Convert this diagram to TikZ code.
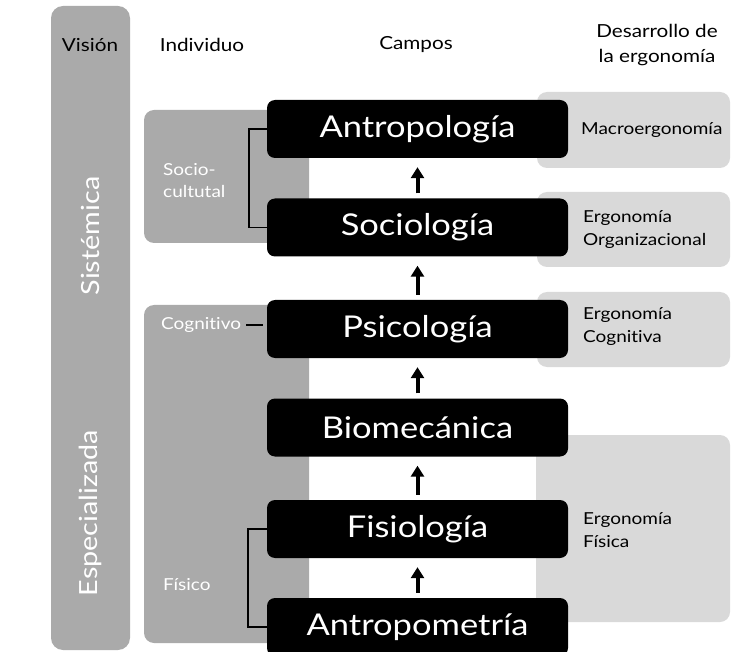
\documentclass[tikz,border=0pt]{standalone}
\usepackage{fontspec}
\setmainfont{Lato}[FakeStretch=1.15, Ligatures={NoCommon}]
\usetikzlibrary{arrows.meta}
\definecolor{midgray}{HTML}{AAAAAA}
\definecolor{palegray}{HTML}{D9D9D9}
\begin{document}
\begin{tikzpicture}[x=1pt,y=-1pt,
  field/.style={fill=black, rounded corners=8pt, text=white, minimum width=301pt, minimum height=58pt, inner sep=0pt, font=\fontsize{30}{34}\selectfont},
  header/.style={font=\fontsize{18}{25}\selectfont, align=center, inner sep=0pt},
  devtext/.style={anchor=west, align=left, inner sep=0pt, font=\fontsize{16.5}{23}\selectfont},
  grouptext/.style={anchor=west, align=left, inner sep=0pt, text=white, font=\fontsize{16.5}{22}\selectfont},
  vistext/.style={rotate=90, text=white, inner sep=0pt, font=\fontsize{25}{30}\selectfont},
  arr/.style={line width=4pt, -{Triangle[length=11pt,width=13pt]}, shorten <=5pt, shorten >=9pt},
  brack/.style={line width=1.6pt}
]
\useasboundingbox (0,0) rectangle (731,652);
% background panels
\fill[midgray, rounded corners=12pt] (51,6) rectangle (130,650);
\fill[midgray, rounded corners=10pt] (144,110) rectangle (309,243);
\fill[midgray, rounded corners=10pt] (144,305) rectangle (309,643);
\fill[palegray, rounded corners=10pt] (537,92) rectangle (730,168);
\fill[palegray, rounded corners=10pt] (537,192) rectangle (730,267);
\fill[palegray, rounded corners=10pt] (537,292) rectangle (730,367);
\fill[palegray, rounded corners=10pt] (536,435) rectangle (730,622);
% headers
\node[header] (hvis) at (90,45) {Visión};
\node[header] (hind) at (202,45) {Individuo};
\node[header] (hcam) at (416,45) {Campos};
\node[header] (hdes) at (657,45) {Desarrollo de\\la ergonomía};
% vision labels
\node[vistext] (sist) at (90,236) {Sistémica};
\node[vistext] (espe) at (90,513) {Especializada};
% group labels
\node[grouptext] (socio) at (163,181) {Socio-\\cultutal};
\node[grouptext] (cogn) at (161,325) {Cognitivo};
\node[grouptext] (fisi) at (163,585) {Físico};
% fields
\node[field] (antrop) at (417.5,129) {Antropología};
\node[field] (sociol) at (417.5,227.5) {Sociología};
\node[field] (psico) at (417.5,329) {Psicología};
\node[field] (biome) at (417.5,427.5) {Biomecánica};
\node[field] (fisio) at (417.5,529) {Fisiología};
\node[field] (antrom) at (417.5,627) {Antropometría};
% arrows
\draw[arr] (sociol.north) -- (antrop.south);
\draw[arr] (psico.north) -- (sociol.south);
\draw[arr] (biome.north) -- (psico.south);
\draw[arr] (fisio.north) -- (biome.south);
\draw[arr] (antrom.north) -- (fisio.south);
% brackets
\draw[brack] (antrop.west) -- ++(-18,0) |- (sociol.west);
\draw[brack] (fisio.west) -- ++(-19,0) |- (antrom.west);
\draw[brack, shorten <=5pt, shorten >=4pt] (cogn.east) -- (psico.west |- cogn.east);
% development texts
\node[devtext] (macro) at (581,130) {Macroergonomía};
\node[devtext] (orga) at (583,229.5) {Ergonomía\\Organizacional};
\node[devtext] (cogerg) at (583,326.5) {Ergonomía\\Cognitiva};
\node[devtext] (fiserg) at (583,530.5) {Ergonomía\\Física};
\end{tikzpicture}
\end{document}
